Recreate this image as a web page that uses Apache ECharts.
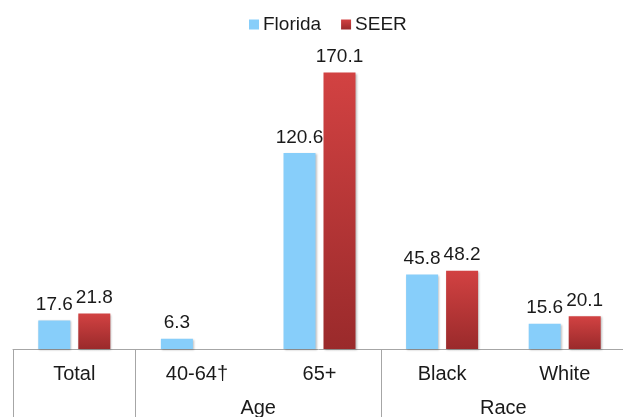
<!DOCTYPE html>
<html>
<head>
<meta charset="utf-8">
<script src="https://cdn.jsdelivr.net/npm/echarts@6/dist/echarts.min.js"></script>
<style>
  html, body { margin: 0; padding: 0; background: #fff; }
  #chart { width: 623px; height: 417px; }
</style>
</head>
<body>
<div id="chart"></div>
<script>
const categories = ['Total', '40-64†', '65+', 'Black', 'White']
const florida = [17.6, 6.3, 120.6, 45.8, 15.6]
const seer = [21.8, null, 170.1, 48.2, 20.1]
const groups = ['', 'Age', 'Race']
const groupSizes = [1, 2, 2]

// where each group starts and where its label sits, in category units
const groupStarts = []
const groupCenters = []
let acc = 0
groupSizes.forEach(n => {
  groupStarts.push(acc)
  groupCenters.push(acc + n / 2)
  acc += n
})

const FONT = 'Liberation Sans, Arial, sans-serif'
const TEXT = '#1a1a1a'
const LINE = '#a6a6a6'

const chart = echarts.init(document.getElementById('chart'))

const barShadow = {
  shadowColor: 'rgba(0,0,0,0.25)',
  shadowBlur: 2,
  shadowOffsetX: 1,
  shadowOffsetY: 1
}

const option = {
  backgroundColor: '#fff',
  animation: false,
  textStyle: { fontFamily: FONT },
  legend: {
    top: 10,
    left: 244,
    icon: 'rect',
    itemWidth: 10,
    itemHeight: 10,
    itemGap: 20,
    textStyle: { fontSize: 19, color: TEXT, fontFamily: FONT, padding: [0, 0, 0, -1] }
  },
  grid: { left: 13, width: 613, top: 24, bottom: 68, outerBoundsMode: 'none' },
  xAxis: [
    {
      type: 'category',
      data: categories,
      position: 'bottom',
      axisLine: { lineStyle: { color: LINE, width: 1 } },
      /* separators between groups */
      axisTick: {
        show: true,
        length: 68,
        interval: (index) => groupStarts.includes(index),
        lineStyle: { color: LINE, width: 1 }
      },
      axisLabel: { fontSize: 20, color: TEXT, margin: 15, fontFamily: FONT, interval: 0 }
    },
    {
      type: 'value',
      min: 0,
      max: categories.length,
      interval: 0.5,
      position: 'bottom',
      axisLine: { show: false },
      axisTick: { show: false },
      splitLine: { show: false },
      axisLabel: {
        fontSize: 20,
        color: TEXT,
        margin: 49,
        fontFamily: FONT,
        formatter: (v) => {
          const i = groupCenters.indexOf(v)
          return i >= 0 ? groups[i] : ''
        }
      }
    }
  ],
  yAxis: { type: 'value', min: 0, max: 200, show: false },
  series: [
    {
      name: 'Florida',
      type: 'bar',
      data: florida,
      barWidth: 32,
      barGap: '25%',
      itemStyle: Object.assign({ color: '#87cefa' }, barShadow),
      label: { show: true, position: 'top', distance: 6, fontSize: 19, color: TEXT, fontFamily: FONT }
    },
    {
      name: 'SEER',
      type: 'bar',
      data: seer,
      barWidth: 32,
      barGap: '25%',
      itemStyle: Object.assign({
        color: new echarts.graphic.LinearGradient(0, 0, 0, 1, [
          { offset: 0, color: '#d24242' },
          { offset: 1, color: '#9a2a2b' }
        ])
      }, barShadow),
      label: { show: true, position: 'top', distance: 6, fontSize: 19, color: TEXT, fontFamily: FONT }
    }
  ]
}

chart.setOption(option)
</script>
</body>
</html>
